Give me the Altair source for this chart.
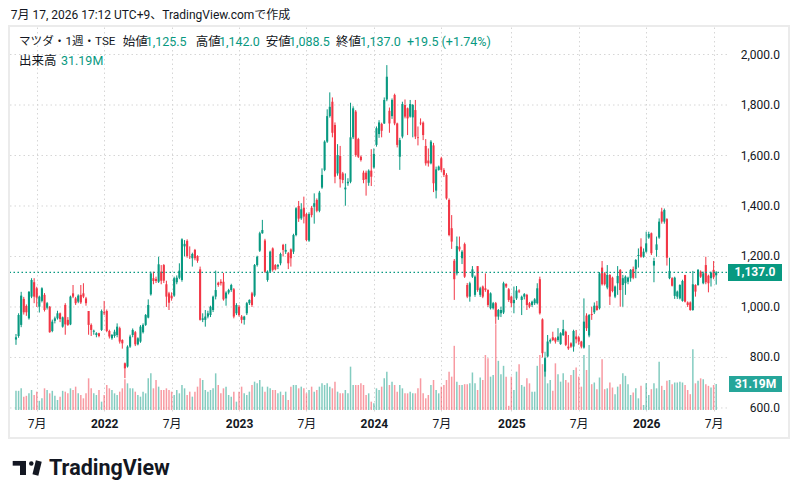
import altair as alt
import pandas as pd

# ---------------- data (weekly bars, Mazda / TSE) ----------------
FIRST_WEEK = "2021-05-10"

OPEN = [871,885,929,1032,1004,955,1041,1098,1074,1001,1024,1048,997,1001,905,945,955,975,922,1008,949,931,1054,1034,1021,1048,1054,1034,984,929,902,889,896,909,979,984,905,876,885,889,916,869,777,764,843,889,900,852,863,900,929,958,1050,1114,1111,1100,
        1140,1166,1090,1054,1045,1045,1098,1116,1107,1240,1262,1199,1193,1226,1202,1149,949,949,962,968,988,1041,1096,1100,1100,1034,1057,1067,1070,975,1001,962,949,975,1015,1054,1045,1166,1223,1292,1263,1107,1140,1232,1166,1160,1173,1246,1219,1213,1228,1219,1285,1400,
        1351,1393,1368,1263,1393,1397,1424,1381,1473,1543,1655,1756,1813,1721,1529,1598,1529,1466,1490,1496,1672,1774,1665,1595,1532,1532,1492,1540,1553,1642,1685,1725,1727,1822,1777,1756,1840,1727,1595,1675,1800,1787,1754,1751,1780,1672,1730,1730,1638,1580,1569,1640,1461,1543,
        1589,1543,1523,1424,1312,1183,1133,1239,1193,1249,1087,1041,1120,1048,1162,1048,1081,1074,1067,995,995,1015,962,975,978,1091,1070,1041,1015,1034,1065,1028,1041,1048,1015,1008,1015,1015,1110,951,744,804,863,880,876,869,853,889,902,843,856,843,883,880,863,839,
        966,887,972,979,1005,995,1156,1133,1077,1127,1116,1041,1094,1147,1087,1094,1100,1114,1150,1150,1202,1239,1199,1219,1275,1292,1164,1226,1275,1378,1338,1348,1114,1114,1044,1041,1034,1024,1127,1018,1018,988,1087,1087,1140,1094,1166,1124,1114,1147,1125.5]

HIGH = [893,975,1060,1040,1010,1063,1114,1114,1080,1045,1078,1055,1020,1004,950,962,985,978,962,1015,960,1045,1087,1040,1050,1087,1094,1040,984,935,910,900,898,990,1024,990,910,893,910,935,922,872,780,848,890,915,905,880,928,935,972,1030,1140,1140,1120,1199,
        1166,1170,1104,1060,1058,1120,1125,1173,1272,1265,1268,1240,1215,1230,1205,1160,975,988,985,1005,1045,1144,1100,1110,1135,1062,1072,1092,1075,1015,1008,968,965,1020,1030,1060,1170,1203,1298,1345,1270,1145,1223,1236,1170,1170,1215,1250,1250,1218,1232,1290,1395,1420,
        1411,1437,1372,1375,1400,1450,1430,1460,1549,1660,1783,1850,1830,1731,1645,1638,1535,1529,1510,1809,1795,1780,1670,1600,1540,1540,1545,1625,1628,1715,1740,1730,1830,1958,1790,1826,1845,1730,1670,1813,1822,1790,1820,1804,1820,1715,1747,1735,1665,1628,1661,1650,1556,1560,
        1595,1550,1530,1430,1364,1190,1279,1279,1225,1255,1095,1100,1162,1125,1162,1080,1085,1133,1070,1058,1020,1020,992,1001,1100,1094,1075,1045,1081,1083,1070,1045,1055,1052,1020,1025,1035,1094,1120,955,800,889,875,902,880,916,900,949,906,889,860,910,909,886,866,1034,
        975,972,1001,1018,1024,1138,1182,1138,1166,1130,1120,1085,1162,1150,1127,1125,1120,1150,1160,1190,1232,1272,1232,1298,1298,1295,1195,1279,1351,1393,1390,1352,1195,1118,1120,1065,1090,1108,1127,1022,1022,1143,1090,1150,1145,1140,1199,1128,1140,1182,1142]

LOW = [850,878,920,970,965,950,1035,1015,1000,978,1018,982,990,898,900,935,950,940,918,890,925,928,1035,1008,1015,1012,1035,1005,890,885,890,880,880,905,968,900,875,870,878,880,855,835,718,760,838,880,845,848,858,895,925,955,1045,1090,1095,1095,
       1090,1095,1000,988,1025,1040,1090,1110,1100,1200,1195,1190,1160,1185,1175,946,940,922,955,960,980,1030,1080,1085,1025,1005,1050,1060,955,968,962,935,930,968,1008,1000,1040,1160,1218,1290,1135,1100,1135,1140,1145,1150,1165,1200,1210,1150,1160,1210,1280,1337,
       1345,1331,1260,1258,1355,1330,1375,1375,1468,1538,1650,1750,1672,1490,1520,1473,1490,1401,1480,1490,1665,1595,1590,1576,1490,1441,1480,1479,1548,1635,1670,1672,1725,1815,1690,1745,1720,1632,1543,1668,1747,1681,1750,1672,1665,1640,1720,1661,1560,1556,1565,1455,1430,1540,
       1535,1515,1425,1280,1230,1028,1125,1220,1170,1115,1035,1021,1115,1040,1060,1040,1035,1060,1000,990,990,933,949,960,972,1075,1020,1000,975,1028,1055,968,1030,988,995,1000,1008,1010,970,800,724,800,855,865,855,862,850,885,845,830,838,823,856,850,836,835,
       905,880,949,972,985,990,1085,1085,1070,1008,1058,1035,1048,1001,1001,1048,1090,1100,1110,1114,1156,1195,1195,1215,1270,1206,1098,1199,1270,1330,1330,1164,1110,1081,1032,1032,1030,1021,1018,1000,985,985,1041,1084,1115,1090,1090,1058,1081,1110,1088.5]

CLOSE = [880,968,1045,979,979,1060,1107,1041,1037,1041,1074,988,1015,900,942,955,975,952,959,931,929,1041,1041,1015,1045,1018,1041,1015,929,909,906,896,885,984,975,905,883,889,902,922,863,856,757,843,883,909,852,876,922,929,968,1008,1133,1103,1103,1169,
         1104,1104,1041,1017,1035,1114,1116,1144,1268,1250,1202,1197,1210,1193,1183,949,955,962,975,1001,1041,1067,1087,1094,1030,1057,1067,1087,962,1008,968,949,962,1015,1028,1008,1166,1199,1292,1305,1140,1140,1219,1147,1149,1166,1210,1226,1226,1173,1193,1285,1391,1350,
         1387,1358,1265,1368,1364,1411,1381,1453,1523,1655,1756,1793,1690,1516,1602,1506,1503,1473,1496,1672,1787,1602,1595,1582,1503,1506,1540,1516,1606,1708,1731,1698,1820,1912,1727,1820,1727,1642,1661,1804,1754,1747,1804,1800,1675,1669,1727,1681,1569,1569,1655,1490,1545,1556,
         1543,1523,1430,1285,1259,1110,1241,1228,1219,1120,1041,1094,1149,1120,1067,1074,1041,1067,1008,1054,1015,962,988,988,1094,1081,1028,1015,1028,1065,1061,1041,1051,1008,1001,1021,1030,1074,975,817,797,863,869,869,863,883,896,912,850,836,843,905,872,863,843,942,
         916,968,968,1005,988,1133,1090,1090,1127,1041,1063,1081,1123,1067,1114,1120,1116,1147,1116,1186,1206,1199,1219,1252,1289,1213,1182,1248,1338,1338,1384,1195,1143,1084,1116,1061,1087,1103,1021,1008,988,1090,1061,1147,1120,1133,1098,1094,1136,1117.5,1137]

# weekly volume, millions of shares
VOLUME = [23,23,26,16,17,20,24,18,22,11,14,26,24,20,23,17,12,16,23,22,20,26,24,28,20,18,14,20,38,26,20,18,24,10,18,30,26,24,20,18,22,26,37,32,26,26,22,18,16,22,20,38,44,26,36,28,
          24,24,26,24,22,18,24,20,30,26,18,22,16,22,28,38,36,24,22,24,26,44,30,20,26,28,18,16,22,10,22,28,20,18,22,30,34,32,36,28,22,28,26,24,24,20,22,18,22,12,28,30,30,26,
          28,26,20,24,28,22,24,28,32,30,32,28,26,34,22,20,20,24,20,52,30,30,30,32,30,18,20,10,8,26,24,28,38,46,30,34,30,22,30,26,20,20,22,20,20,26,38,20,14,18,30,36,24,20,
          28,30,36,46,40,77,34,30,30,31,31,32,45,32,24,39,36,66,62,40,42,103,59,43,53,40,5,40,24,46,55,30,28,38,32,22,22,53,66,55,70,32,36,23,56,43,34,44,36,33,42,48,51,40,28,66,
          48,78,31,33,25,39,61,25,26,33,27,19,28,31,44,41,31,18,21,26,14,29,6,32,18,25,32,26,58,29,24,35,36,31,33,33,34,33,30,24,19,73,32,35,38,37,31,29,27,30,31.19]

X_TICKS = ["2021-07-05", "2022-01-03", "2022-07-04", "2023-01-02", "2023-07-03",
           "2024-01-01", "2024-07-01", "2025-01-06", "2025-07-07", "2026-01-05", "2026-07-06"]
Y_TICKS = [600, 800, 1000, 1200, 1400, 1600, 1800, 2000]
PRICE_DOMAIN = [584, 2109]
VOLUME_DOMAIN = [-2.4, 459.6]

TITLE_LINE = "7月 17, 2026 17:12 UTC+9、TradingView.comで作成"
SYMBOL = "マツダ・1週・TSE"

# ---------------- styling ----------------
FONT = "Roboto, 'Noto Sans CJK JP', sans-serif"
DARK = "#131722"
GREEN = "#089981"
RED = "#F23645"
VOL_BOX = "#26a69a"
GRID = "#d6d6d6"

W, H = 717, 385

bars = pd.DataFrame({
    "date": pd.date_range(FIRST_WEEK, periods=len(CLOSE), freq="7D").strftime("%Y-%m-%d"),
    "open": OPEN, "high": HIGH, "low": LOW, "close": CLOSE, "volume": VOLUME,
})
bars["dir"] = ["up" if c >= o else "down" for o, c in zip(OPEN, CLOSE)]


def dt(s, h=0):
    y, m, d = (int(p) for p in s.split("-"))
    return alt.DateTime(year=y, month=m, date=d, hours=h, utc=True)


x_axis = alt.Axis(
    values=[dt(s) for s in X_TICKS],
    labelExpr="utcFormat(datum.value, '%m') == '01' ? utcFormat(datum.value, '%Y') : '7月'",
    labelFontWeight={"condition": {"test": "utcmonth(datum.value) == 0", "value": "bold"}, "value": "normal"},
    ticks=False, tickSize=0, domain=False, labelPadding=6, labelFlush=False,
    labelFontSize=12, labelColor=DARK, labelFont=FONT,
    grid=True, gridDash=[1.5, 3], gridColor=GRID, gridWidth=1, title=None,
)
X = alt.X("date:T", scale=alt.Scale(type="utc", domain=[dt("2021-05-07", 8), dt("2026-07-28", 16)]), axis=x_axis)

price_scale = alt.Scale(domain=PRICE_DOMAIN, nice=False, zero=False)
vol_scale = alt.Scale(domain=VOLUME_DOMAIN, nice=False, zero=False)
COLOR = alt.Color("dir:N", scale=alt.Scale(domain=["up", "down"], range=[GREEN, RED]), legend=None)

# price grid + price scale labels (drawn from Y_TICKS through the price scale)
ticks_df = pd.DataFrame({"p": Y_TICKS})
grid_rules = alt.Chart(ticks_df).mark_rule(strokeDash=[1.5, 3], color=GRID, strokeWidth=1).encode(
    y=alt.Y("p:Q", scale=price_scale, axis=None))
grid_labels = alt.Chart(ticks_df).mark_text(align="right", baseline="middle", font=FONT,
                                            fontSize=12, color=DARK).encode(
    x=alt.value(770), y=alt.Y("p:Q", scale=price_scale, axis=None), text=alt.Text("p:Q", format=",.1f"))
grid_group = alt.layer(grid_rules, grid_labels)

base = alt.Chart(bars)

wicks = base.mark_rule(strokeWidth=1).encode(
    x=X, y=alt.Y("low:Q", scale=price_scale, axis=None), y2="high:Q", color=COLOR)
bodies = base.mark_bar(size=2.1).encode(
    x=X, y=alt.Y("open:Q", scale=price_scale, axis=None), y2="close:Q", color=COLOR)

last = pd.DataFrame({"price": [CLOSE[-1]], "label": [f"{CLOSE[-1]:,.1f}"]})
last_line = alt.Chart(last).mark_rule(strokeDash=[1.5, 2.5], strokeWidth=1.2, color=GREEN).encode(
    y=alt.Y("price:Q", scale=price_scale, axis=None))
last_box = alt.Chart(last).mark_rule(strokeWidth=17, color=GREEN, strokeCap="butt").encode(
    x=alt.value(718), x2=alt.value(772), y=alt.Y("price:Q", scale=price_scale, axis=None))
last_txt = alt.Chart(last).mark_text(color="white", fontWeight="bold", fontSize=12, font=FONT,
                                      align="center", baseline="middle").encode(
    x=alt.value(745), y=alt.Y("price:Q", scale=price_scale, axis=None), text="label:N")

price_group = alt.layer(wicks, bodies, last_line, last_box, last_txt)

vol_bars = base.mark_bar(size=1.5, opacity=0.5).encode(
    x=X, y=alt.Y("volume:Q", scale=vol_scale, axis=None), y2=alt.datum(0), color=COLOR)
vlast = pd.DataFrame({"v": [VOLUME[-1]], "label": [f"{VOLUME[-1]:.2f}M"]})
vol_box = alt.Chart(vlast).mark_rule(strokeWidth=16, color=VOL_BOX, strokeCap="butt").encode(
    x=alt.value(719), x2=alt.value(772), y=alt.Y("v:Q", scale=vol_scale, axis=None))
vol_txt = alt.Chart(vlast).mark_text(color="white", fontWeight="bold", fontSize=12, font=FONT,
                                     align="center", baseline="middle").encode(
    x=alt.value(745.5), y=alt.Y("v:Q", scale=vol_scale, axis=None), text="label:N")
vol_group = alt.layer(vol_bars, vol_box, vol_txt)

one = pd.DataFrame({"a": [0]})
border = alt.Chart(one).mark_rect(fillOpacity=0, stroke="#ebebeb", strokeWidth=2).encode(
    x=alt.value(-1), x2=alt.value(779), y=alt.value(-1), y2=alt.value(411))


def label(txt, x, y, color=DARK, size=12.5, weight="normal", baseline="middle", align="left"):
    return alt.Chart(pd.DataFrame({"t": [txt]})).mark_text(
        align=align, baseline=baseline, font=FONT, fontSize=size, color=color, fontWeight=weight
    ).encode(x=alt.value(x), y=alt.value(y), text="t:N")


chg = CLOSE[-1] - CLOSE[-2]
pct = chg / CLOSE[-2] * 100
texts = [
    label(TITLE_LINE, 0.7, -12, size=12),
    label(SYMBOL, 9, 15, size=11.6),
    label("始値", 112.7, 15), label(f"{OPEN[-1]:,.1f}", 135.7, 15, GREEN),
    label("高値", 185.7, 15), label(f"{HIGH[-1]:,.1f}", 209, 15, GREEN),
    label("安値", 255.7, 15), label(f"{LOW[-1]:,.1f}", 279, 15, GREEN),
    label("終値", 326, 15), label(f"{CLOSE[-1]:,.1f}", 350, 15, GREEN),
    label(f"{chg:+.1f} ({pct:+.2f}%)", 397, 15, GREEN),
    label("出来高", 9, 34), label(f"{VOLUME[-1]:.2f}M", 51, 34, GREEN),
    label("TradingView", 39, 448, size=21.5, weight="bold", baseline="alphabetic"),
]


def seg(x1, y1, x2, y2, w):
    return alt.Chart(one).mark_rule(strokeWidth=w, color=DARK, strokeCap="butt").encode(
        x=alt.value(x1), x2=alt.value(x2), y=alt.value(y1), y2=alt.value(y2))


logo = [
    seg(2.7, 436.3, 16, 436.3, 4.7),
    seg(13, 434, 13, 448, 6),
    alt.Chart(one).mark_circle(size=20, color=DARK, opacity=1).encode(x=alt.value(21.3), y=alt.value(436.5)),
    seg(25.4, 448, 28.8, 434, 6),
]

chart = alt.layer(border, grid_group, vol_group, price_group, *texts, *logo).resolve_scale(
    y="independent"
).properties(
    width=W, height=H,
    padding={"left": 2, "top": 19, "right": 63, "bottom": 78},
    autosize=alt.AutoSizeParams(type="none"),
    background="white",
).configure_view(strokeWidth=0)

chart.save("out.html", embed_options={"renderer": "svg", "actions": False})
